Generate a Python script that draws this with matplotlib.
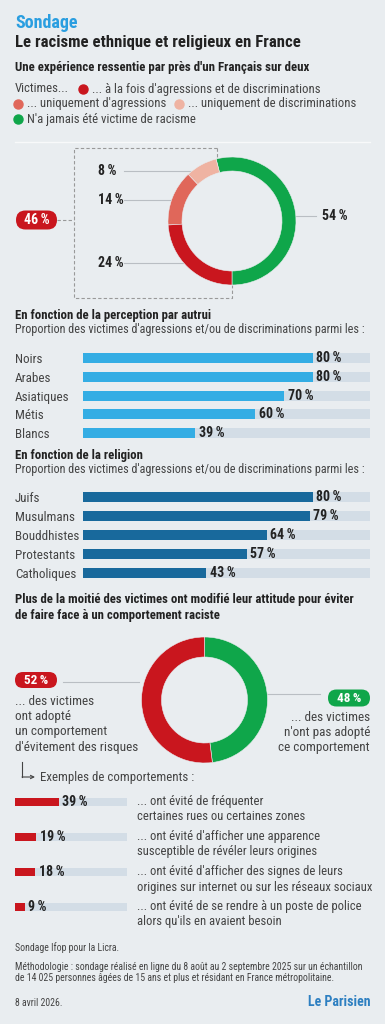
import numpy as np
import matplotlib
matplotlib.use("Agg")
import matplotlib.pyplot as plt
from matplotlib.patches import FancyBboxPatch

W, H = 385, 1024
BG = "#e9edf0"
FONT = ["Roboto Condensed", "Roboto", "DejaVu Sans"]
plt.rcParams["font.family"] = FONT

RED = "#c9161e"
SALMON = "#e0675a"
PINK = "#efb3a2"
GREEN = "#0fa64a"
LBLUE = "#34ade4"
DBLUE = "#18699c"
TRACK = "#d3dde6"
DARK = "#222222"
GREY = "#444444"
LINE = "#b9bec3"
SP = "\u2009"  # thin space before %

# ---- data ----
donut1_names = ["N'a jamais été victime de racisme", "... uniquement de discriminations",
                "... uniquement d'agressions", "... à la fois d'agressions et de discriminations"]
donut1_vals = [54, 8, 14, 24]
donut1_cols = [GREEN, PINK, SALMON, RED]
victims_total = 46

percep_cats = ["Noirs", "Arabes", "Asiatiques", "Métis", "Blancs"]
percep_vals = [80, 80, 70, 60, 39]

relig_cats = ["Juifs", "Musulmans", "Bouddhistes", "Protestants", "Catholiques"]
relig_vals = [80, 79, 64, 57, 43]

avoid_vals = [48, 52]   # n'ont pas adopté, ont adopté

behav_vals = [39, 19, 18, 9]
behav_text = ["... ont évité de fréquenter\ncertaines rues ou certaines zones",
              "... ont évité d'afficher une apparence\nsusceptible de révéler leurs origines",
              "... ont évité d'afficher des signes de leurs\norigines sur internet ou sur les réseaux sociaux",
              "... ont évité de se rendre à un poste de police\nalors qu'ils en avaient besoin"]

fig = plt.figure(figsize=(W / 100, H / 100), dpi=100, facecolor=BG)

# overlay in pixel coordinates (y down)
ov = fig.add_axes([0, 0, 1, 1])
ov.set_xlim(0, W); ov.set_ylim(H, 0); ov.axis("off")


def px_axes(x0, y0, x1, y1):
    a = fig.add_axes([x0 / W, 1 - y1 / H, (x1 - x0) / W, (y1 - y0) / H])
    a.patch.set_visible(False)
    return a


def T(x, y, s, size=9, bold=False, color=GREY, **kw):
    kw.setdefault("va", "center")
    return ov.text(x, y, s, fontsize=size, fontweight="bold" if bold else "normal",
                   color=color, **kw)


def pill(x0, yc, w, h, color, s, size=9):
    ov.add_patch(FancyBboxPatch((x0, yc - h / 2), w, h,
                                boxstyle=f"round,pad=0,rounding_size={h/2}",
                                fc=color, ec="none"))
    T(x0 + w / 2, yc, s, size=size, bold=True, color="white", ha="center")


# ---- header ----
T(15, 23, "Sondage", size=13, bold=True, color="#2a9ee0")
T(15, 43, "Le racisme ethnique et religieux en France", size=12.1, bold=True, color=DARK)
T(15, 68, "Une expérience ressentie par près d'un Français sur deux", size=9.3, bold=True, color=DARK)

T(15, 89, "Victimes...", size=9.2)
ov.plot(83, 89, "o", ms=6.5, color=RED)
T(92, 89, donut1_names[3], size=9.2)
ov.plot(18, 104, "o", ms=6.5, color=SALMON)
T(27, 104, donut1_names[2], size=9.2)
ov.plot(179, 104, "o", ms=6.5, color=PINK)
T(188, 104, donut1_names[1], size=9.2)
ov.plot(18, 119, "o", ms=6.5, color=GREEN)
T(27, 119, donut1_names[0], size=9.2)
ov.plot([15, 370], [142, 142], color="#f8f9fa", lw=1)

# ---- donut 1 ----
cx, cy, R, RW = 232, 221, 64, 14
pa = px_axes(cx - R, cy - R, cx + R, cy + R)
pa.pie(donut1_vals, colors=donut1_cols, startangle=-90, counterclock=True,
       radius=1, wedgeprops=dict(width=RW / R, edgecolor=BG, linewidth=0.4))
pa.set_xlim(-1, 1); pa.set_ylim(-1, 1); pa.set_aspect("auto")

# leader lines at wedge mid-angles
ang0 = -90
rm = R - RW / 2
for v in donut1_vals:
    mid = np.radians(ang0 + v * 3.6 / 2)
    ang0 += v * 3.6
    ly = cy - rm * np.sin(mid)
    dx = np.sqrt(R ** 2 - (ly - cy) ** 2)
    if np.cos(mid) > 0:
        ov.plot([cx + dx, cx + dx + 20], [ly + 2, ly + 2], color=LINE, lw=0.8)
        T(cx + dx + 26, ly + 2, f"{v}{SP}%", size=10, bold=True, color=DARK)
    else:
        ov.plot([124, cx - dx], [ly, ly], color=LINE, lw=0.8)
        T(98, ly, f"{v}{SP}%", size=10, bold=True, color=DARK)

# dashed bracket around the victims' part
dkw = dict(color="#999999", lw=0.8, ls=(0, (3, 2)))
ov.plot([217, 74, 74, 232, 232], [148, 148, 298, 298, 285], **dkw)
ov.plot([217, 217], [148, 158], **dkw)
ov.plot([57, 74], [220, 220], **dkw)
pill(16, 220, 41, 19, RED, f"{victims_total}{SP}%", size=10)


# ---- bar sections ----
def bar_block(cats, vals, color, y_first, step, x0=83, x1=370, h=10):
    n = len(cats)
    a = px_axes(x0, y_first - step / 2, x1, y_first + step * (n - 0.5))
    y = np.arange(n)
    a.barh(y, [100] * n, height=h / step, color=TRACK)
    a.barh(y, vals, height=h / step, color=color)
    for yi, v in zip(y, vals):
        a.text(v + 1.3, yi, f"{v}{SP}%", va="center", ha="left", fontsize=10,
               fontweight="bold", color=DARK)
    a.set_xlim(0, 100); a.set_ylim(n - 0.5, -0.5)
    a.set_yticks(y)
    a.set_yticklabels(cats, ha="left", fontsize=9.4, color=GREY)
    a.tick_params(axis="y", length=0, pad=(x0 - 15) * 0.72)
    a.set_xticks([])
    for s in a.spines.values():
        s.set_visible(False)
    return a


SUB = "Proportion des victimes d'agressions et/ou de discriminations parmi les :"
T(15, 315, "En fonction de la perception par autrui", size=9.2, bold=True, color=DARK)
T(15, 330, SUB, size=8.7)
bar_block(percep_cats, percep_vals, LBLUE, 358, 18.75)

T(15, 455, "En fonction de la religion", size=9.2, bold=True, color=DARK)
T(15, 470, SUB, size=8.7)
bar_block(relig_cats, relig_vals, DBLUE, 497, 18.9)

# ---- avoidance donut ----
T(15, 600, "Plus de la moitié des victimes ont modifié leur attitude pour éviter", size=9.2, bold=True, color=DARK)
T(15, 615, "de faire face à un comportement raciste", size=9.2, bold=True, color=DARK)

cx2, cy2, R2, RW2 = 204.5, 700, 63, 20
pb = px_axes(cx2 - R2, cy2 - R2, cx2 + R2, cy2 + R2)
pb.pie(avoid_vals, colors=[GREEN, RED], startangle=90, counterclock=False,
       radius=1, wedgeprops=dict(width=RW2 / R2, edgecolor=BG, linewidth=0.4))
pb.set_xlim(-1, 1); pb.set_ylim(-1, 1); pb.set_aspect("auto")

pill(15, 680, 42, 16, RED, f"{avoid_vals[1]}{SP}%", size=9.5)
ov.plot([63, 139], [682, 682], color=LINE, lw=0.8)
T(15, 695, "... des victimes\nont adopté\nun comportement\nd'évitement des risques",
  size=9.5, va="top", linespacing=1.22)

pill(328, 698, 42, 17, GREEN, f"{avoid_vals[0]}{SP}%", size=9.5)
ov.plot([267, 320], [694, 694], color=LINE, lw=0.8)
T(370, 711, "... des victimes\nn'ont pas adopté\nce comportement", size=9.5,
  va="top", ha="right", multialignment="right", linespacing=1.22)

# arrow to examples
ov.plot([22, 22], [762, 777], color=GREY, lw=0.8)
ov.annotate("", xy=(35, 777), xytext=(22, 777),
            arrowprops=dict(arrowstyle="->", color=GREY, lw=0.8, shrinkA=0, shrinkB=0,
                            mutation_scale=6))
T(40, 777, "Exemples de comportements :", size=9.3)

# ---- behaviour bars ----
step = 35
n = len(behav_vals)
bx = px_axes(15, 802 - step / 2, 127, 802 + step * (n - 0.5))
yy = np.arange(n)
bx.barh(yy, [100] * n, height=8 / step, color=TRACK)
bx.barh(yy, behav_vals, height=8 / step, color=RED)
for yi, v, s in zip(yy, behav_vals, behav_text):
    bx.text(v + 3, yi, f"{v}{SP}%", va="center", ha="left", fontsize=10,
            fontweight="bold", color=DARK)
    T(137, 802 + yi * step - 7, s, size=9.1, va="top", linespacing=1.25)
bx.set_xlim(0, 100); bx.set_ylim(n - 0.5, -0.5)
bx.axis("off")

# ---- footer ----
T(15, 948, "Sondage Ifop pour la Licra.", size=7)
T(15, 967, "Méthodologie : sondage réalisé en ligne du 8 août au 2 septembre 2025 sur un échantillon", size=7)
T(15, 978, "de 14 025 personnes âgées de 15 ans et plus et résidant en France métropolitaine.", size=7)
T(15, 1003, "8 avril 2026.", size=7)
T(370, 1002, "Le Parisien", size=10, bold=True, color="#2d7fc1", ha="right")

fig.savefig("out.png", dpi=100, facecolor=BG)
